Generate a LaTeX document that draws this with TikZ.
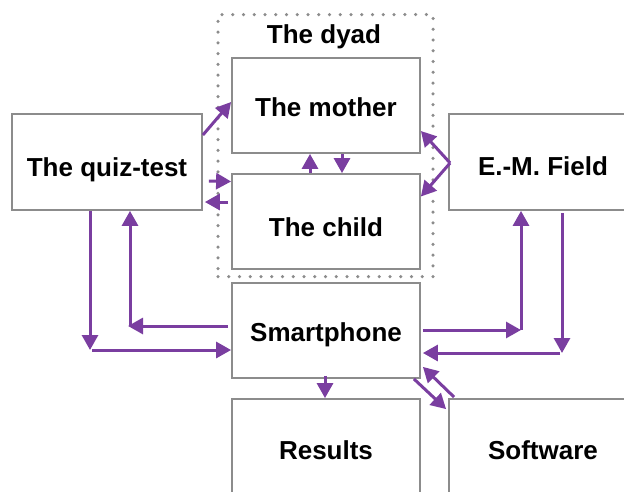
\documentclass[tikz,border=0pt]{standalone}
\usepackage{fontspec}
\setmainfont{Liberation Sans}
\usetikzlibrary{arrows.meta,calc}
\definecolor{arr}{RGB}{122,62,160}
\definecolor{bord}{RGB}{140,140,140}
\definecolor{dots}{RGB}{140,140,140}
\tikzset{
  box/.style={draw=bord, line width=1.8pt, minimum width=188pt, minimum height=95pt,
    inner sep=0pt, text depth=0pt, text height=25pt, font=\fontsize{26}{30}\selectfont\bfseries},
  conn/.style={draw=arr, line width=3pt, -{Triangle[length=15pt,width=16pt]}},
  dyadbox/.style={draw=dots, line width=3.5pt, dash pattern=on 0pt off 10.75pt, line cap=round,
    minimum width=215pt, minimum height=262pt, inner sep=0pt}
}
\begin{document}
\begin{tikzpicture}[x=1pt,y=-1pt]
\useasboundingbox (0,0) rectangle (624,491);
\clip (0,0) rectangle (624,491);
\node[dyadbox] (dyad) at (325.5,145.5) {};
\node[font=\fontsize{26}{30}\selectfont\bfseries] (dyadlabel) at (324,37) {The dyad};
\node[box, minimum width=190pt, minimum height=96pt, text height=28pt] (quiz) at (107,162) {The quiz-test};
\node[box, text height=21pt] (mother) at (326,105.5) {The mother};
\node[box, text height=30pt] (child) at (326,221.5) {The child};
\node[box, minimum height=96pt, text height=27pt] (em) at (543,162) {E.-M. Field};
\node[box, text height=22pt] (smart) at (326,330.5) {Smartphone};
\node[box, minimum height=96pt] (results) at (326,447) {Results};
\node[box, minimum height=96pt] (software) at (543,447) {Software};
% free corner points
\coordinate (a1) at (90,350);
\coordinate (a2) at (130,326);
\coordinate (a3) at (521,330);
\coordinate (a4) at (562,353);
% dyad connections
\draw[conn] ($(quiz.east)+(0,-27)$) -- ($(mother.west)+(0,-3.5)$);
\draw[conn] ($(quiz.east)+(6,19)$) -- ($(child.west)+(0,-40)$);
\draw[conn] ($(child.west)+(-3,-19.5)$) -- ($(quiz.east)+(2,40)$);
\draw[conn] ($(child.north)+(-16,0)$) -- ($(mother.south)+(-16,0)$);
\draw[conn] ($(mother.south)+(16,0)$) -- ($(child.north)+(16,0)$);
\draw[conn] ($(em.west)+(2,1)$) -- ($(mother.east)+(0,25.5)$);
\draw[conn] ($(em.west)+(2,1)$) -- ($(child.east)+(0,-25)$);
% quiz <-> smartphone
\draw[conn] (quiz.south -| a1) -- (a1);
\draw[conn] ($(a1)+(2,0)$) -- (a1 -| smart.west);
\draw[conn] ($(a2 -| smart.west)+(-3,0)$) -- ($(a2)+(-2,0)$);
\draw[conn] (a2) -- (a2 |- quiz.south);
% smartphone <-> field
\draw[conn] ($(a3 -| smart.east)+(2,0)$) -- (a3);
\draw[conn] (a3) -- (a3 |- em.south);
\draw[conn] ($(a4 |- em.south)+(0,2)$) -- (a4);
\draw[conn] ($(a4)+(-2,0)$) -- ($(a4 -| smart.east)+(2,0)$);
% smartphone -> results, software
\draw[conn] ($(smart.south)+(-1,-3)$) -- ($(results.north)+(-1,0)$);
\draw[conn] ($(smart.south east)+(-7,0)$) -- ($(software.north west)+(-2,11)$);
\draw[conn] ($(software.north west)+(6,-1)$) -- ($(smart.south east)+(2,-12)$);
\end{tikzpicture}
\end{document}
